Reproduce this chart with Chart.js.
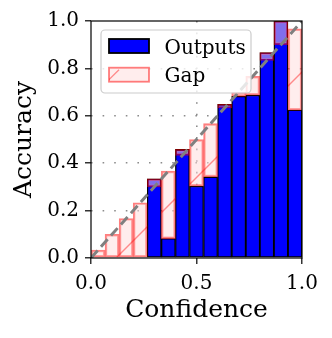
<!DOCTYPE html>
<html>
<head>
<meta charset="utf-8">
<script src="https://cdn.jsdelivr.net/npm/chart.js@4.4.1/dist/chart.umd.min.js"></script>
<style>
  html, body { margin: 0; padding: 0; background: #fff; }
  canvas { display: block; }
</style>
</head>
<body>
<canvas id="reliability" width="332" height="338"></canvas>
<script>
// 15 confidence bins: middle of each bin, and the accuracy
const binCenters = [0.0333, 0.1, 0.1667, 0.2333, 0.3, 0.3667, 0.4333, 0.5,
                    0.5667, 0.6333, 0.7, 0.7667, 0.8333, 0.9, 0.9667];
const binAccuracy = [0, 0, 0, 0, 0.334, 0.082, 0.458, 0.303,
                     0.342, 0.648, 0.682, 0.687, 0.867, 1.0, 0.624];
const xTicks = [0, 0.5, 1.0];
const yTicks = [0, 0.2, 0.4, 0.6, 0.8, 1.0];
const diagonal = [0, 1];

const FONT = "'DejaVu Serif', 'Liberation Serif', serif";
const GAP_FILL = 'rgba(255, 220, 220, 0.5)';
const GAP_EDGE = 'rgba(255, 0, 0, 0.5)';
const HATCH = 'rgba(255, 0, 0, 0.42)';

// hatch "/" lines inside each gap bar
const hatchPlugin = {
    id: 'hatch',
    afterDatasetDraw(chart, args) {
        if (chart.data.datasets[args.index].label !== 'Gap') return;
        const ctx = chart.ctx;
        args.meta.data.forEach(bar => {
            const {x, y, base, width} = bar.getProps(['x', 'y', 'base', 'width'], true);
            const left = x - width / 2, right = x + width / 2;
            const top = Math.min(y, base), bottom = Math.max(y, base);
            if (bottom - top < 1) return;
            ctx.save();
            ctx.beginPath();
            ctx.rect(left, top, right - left, bottom - top);
            ctx.clip();
            ctx.strokeStyle = HATCH;
            ctx.lineWidth = 1.3;
            for (let k = -2; k <= 2; k++) {
                const c = 374 + k * 130;
                ctx.beginPath();
                ctx.moveTo(c - bottom, bottom);
                ctx.lineTo(c - top, top);
                ctx.stroke();
            }
            ctx.restore();
        });
    }
};

// black box around the axes, like matplotlib spines
const framePlugin = {
    id: 'frame',
    afterDatasetsDraw(chart) {
        const {ctx, chartArea: a} = chart;
        ctx.save();
        ctx.strokeStyle = '#000';
        ctx.lineWidth = 1.2;
        ctx.strokeRect(a.left, a.top, a.right - a.left, a.bottom - a.top);
        ctx.restore();
    }
};

// legend drawn inside the axes, upper left
const legendPlugin = {
    id: 'innerLegend',
    afterDraw(chart) {
        const ctx = chart.ctx;
        const a = chart.chartArea;
        const bx = a.left + 10, by = a.top + 9, bw = 150, bh = 63;
        ctx.save();
        ctx.beginPath();
        ctx.roundRect(bx, by, bw, bh, 4);
        ctx.fillStyle = 'rgba(255,255,255,0.8)';
        ctx.fill();
        ctx.strokeStyle = '#cccccc';
        ctx.lineWidth = 1.2;
        ctx.stroke();

        const items = chart.data.datasets.filter(d => d.type !== 'line');
        items.forEach((d, i) => {
            const py = by + 9 + i * 28.7;
            const px = bx + 8;
            ctx.fillStyle = '#fff';
            ctx.fillRect(px, py, 40, 14);
            ctx.fillStyle = d.backgroundColor;
            ctx.fillRect(px, py, 40, 14);
            if (d.label === 'Gap') {
                ctx.save();
                ctx.beginPath();
                ctx.rect(px, py, 40, 14);
                ctx.clip();
                ctx.strokeStyle = HATCH;
                ctx.lineWidth = 1.3;
                ctx.beginPath();
                ctx.moveTo(px - 2, py + 14);
                ctx.lineTo(px + 10, py + 2);
                ctx.stroke();
                ctx.restore();
            }
            ctx.strokeStyle = d.label === 'Gap' ? 'rgba(255,0,0,0.5)' : '#000';
            ctx.lineWidth = 1.8;
            ctx.strokeRect(px, py, 40, 14);
            ctx.fillStyle = '#000';
            ctx.font = '20px ' + FONT;
            ctx.textBaseline = 'alphabetic';
            ctx.fillText(d.label, px + 55.5, py + 14.5);
        });
        ctx.restore();
    }
};

const gridColor = c => (c.tick && (c.tick.value === 0 || c.tick.value === 1)) ? 'rgba(0,0,0,0)' : '#8c8c8c';

const ctx = document.getElementById('reliability').getContext('2d');
const chart = new Chart(ctx, {
    type: 'bar',
    data: {
        datasets: [
            {
                label: 'Outputs',
                data: binCenters.map((c, i) => ({x: c, y: binAccuracy[i]})),
                backgroundColor: '#0000ff',
                borderColor: '#000',
                borderWidth: 1.3,
                borderSkipped: false,
                grouped: false,
                barPercentage: 1,
                categoryPercentage: 1,
                order: 3
            },
            {
                label: 'Gap',
                data: binCenters.map((c, i) => ({x: c, y: [binAccuracy[i], c]})),
                backgroundColor: GAP_FILL,
                borderColor: GAP_EDGE,
                borderWidth: 1.8,
                borderSkipped: false,
                grouped: false,
                barPercentage: 1,
                categoryPercentage: 1,
                order: 2
            },
            {
                type: 'line',
                label: 'Perfect',
                data: diagonal.map(v => ({x: v, y: v})),
                borderColor: '#808080',
                borderWidth: 3,
                borderDash: [10, 5],
                pointRadius: 0,
                fill: false,
                order: 1
            }
        ]
    },
    options: {
        responsive: false,
        animation: false,
        layout: { padding: { top: 21, right: 30, left: 0, bottom: 0 } },
        plugins: {
            legend: { display: false },
            tooltip: { enabled: false }
        },
        scales: {
            x: {
                type: 'linear',
                min: 0,
                max: 1,
                offset: false,
                afterBuildTicks: s => { s.ticks = xTicks.map(v => ({value: v})); },
                afterFit: s => { s.height = 80; },
                ticks: {
                    font: { family: FONT, size: 20 },
                    color: '#000',
                    padding: 8,
                    callback: v => v.toFixed(1)
                },
                grid: {
                    offset: false,
                    color: gridColor,
                    lineWidth: 1.6,
                    tickColor: '#000',
                    tickLength: 6,
                    tickWidth: 1.2,
                    tickBorderDash: []
                },
                border: { display: false, dash: [1.6, 10] },
                title: {
                    display: true,
                    text: 'Confidence',
                    font: { family: FONT, size: 25 },
                    color: '#000',
                    padding: { top: 0, bottom: 13 }
                }
            },
            y: {
                min: 0,
                max: 1,
                afterBuildTicks: s => { s.ticks = yTicks.map(v => ({value: v})); },
                afterFit: s => { s.width = 91; },
                ticks: {
                    font: { family: FONT, size: 20 },
                    color: '#000',
                    padding: 6,
                    callback: v => v.toFixed(1)
                },
                grid: {
                    color: gridColor,
                    lineWidth: 1.6,
                    tickColor: '#000',
                    tickLength: 6,
                    tickWidth: 1.2,
                    tickBorderDash: []
                },
                border: { display: false, dash: [1.6, 10] },
                title: {
                    display: true,
                    text: 'Accuracy',
                    font: { family: FONT, size: 25 },
                    color: '#000',
                    padding: { top: 9.5, bottom: 0 }
                }
            }
        }
    },
    plugins: [hatchPlugin, framePlugin, legendPlugin]
});
</script>
</body>
</html>
